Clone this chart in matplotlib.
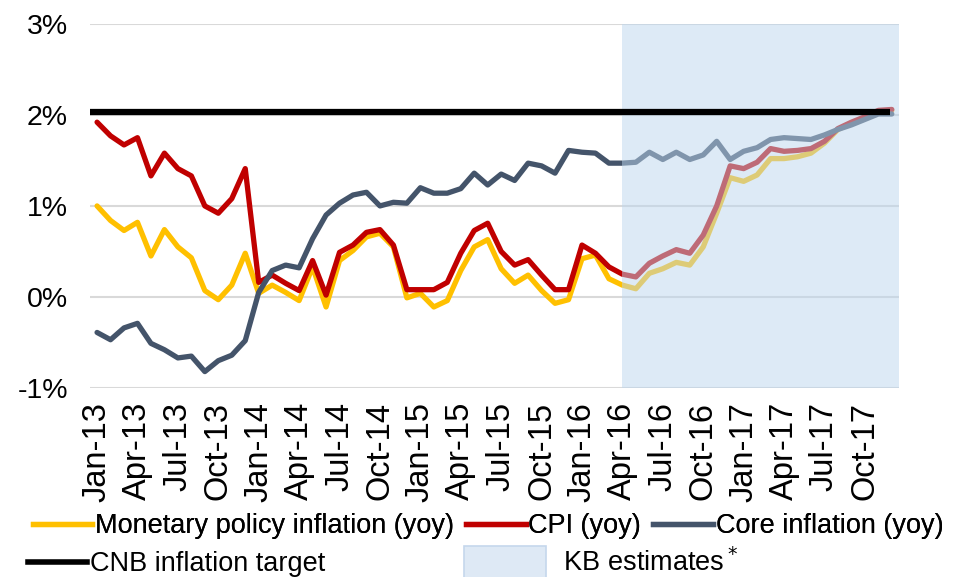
import matplotlib
matplotlib.use('Agg')
import matplotlib.pyplot as plt
import matplotlib.patches as mpatches
from matplotlib.lines import Line2D
from matplotlib.legend_handler import HandlerPatch
import pandas as pd

months = pd.date_range('2013-01-01', '2017-12-01', freq='MS').strftime('%b-%y').tolist()

monetary = [1.00, 0.84, 0.73, 0.82, 0.45, 0.74, 0.55, 0.43, 0.07, -0.03,
            0.13, 0.48, 0.04, 0.13, 0.05, -0.04, 0.33, -0.11, 0.40, 0.51, 0.66,
            0.70, 0.55, -0.01, 0.04, -0.11, -0.04, 0.29, 0.55, 0.63, 0.31,
            0.15, 0.24, 0.07, -0.07, -0.03, 0.42, 0.46, 0.20, 0.13,
            0.09, 0.26, 0.31, 0.38, 0.35, 0.55, 0.92, 1.31, 1.27, 1.34, 1.52,
            1.52, 1.54, 1.58, 1.69, 1.84, 1.91, 1.96, 2.03, 2.05]
cpi = [1.92, 1.77, 1.67, 1.75, 1.33, 1.58, 1.41, 1.33, 1.00, 0.92,
       1.08, 1.41, 0.16, 0.24, 0.15, 0.07, 0.40, 0.02, 0.49, 0.57, 0.71,
       0.74, 0.57, 0.08, 0.08, 0.08, 0.16, 0.48, 0.73, 0.81, 0.50,
       0.35, 0.41, 0.24, 0.08, 0.08, 0.57, 0.48, 0.33, 0.25,
       0.22, 0.37, 0.45, 0.52, 0.48, 0.68, 1.00, 1.44, 1.41, 1.48, 1.63,
       1.60, 1.61, 1.63, 1.71, 1.85, 1.92, 1.98, 2.05, 2.06]
core = [-0.39, -0.47, -0.34, -0.29, -0.51, -0.58, -0.67, -0.65, -0.82, -0.70,
        -0.64, -0.48, 0.05, 0.29, 0.35, 0.32, 0.64, 0.90, 1.03, 1.12, 1.15,
        1.00, 1.04, 1.03, 1.20, 1.14, 1.14, 1.19, 1.36, 1.23, 1.35,
        1.28, 1.47, 1.44, 1.36, 1.61, 1.59, 1.58, 1.47, 1.47,
        1.48, 1.59, 1.51, 1.59, 1.51, 1.56, 1.71, 1.51, 1.60, 1.64, 1.73,
        1.75, 1.74, 1.73, 1.78, 1.84, 1.89, 1.95, 2.01, 2.01]
target = 2.03
estimate_start = 'Apr-16'

plt.rcParams['font.family'] = ['Liberation Sans', 'DejaVu Sans']

fig = plt.figure(figsize=(9.61, 5.77), dpi=100)
ax = fig.add_axes([0.094, 0.3276, 0.841, 0.631])

x = list(range(len(months)))
lw = 3.8
ax.plot(x, monetary, color='#FFC000', lw=lw, zorder=2, solid_joinstyle='round', solid_capstyle='round')
ax.plot(x, cpi, color='#C00000', lw=lw, zorder=2, solid_joinstyle='round', solid_capstyle='round')
ax.plot(x, core, color='#44546A', lw=lw, zorder=2, solid_joinstyle='round', solid_capstyle='round')
ax.axvspan(months.index(estimate_start), len(months) - 0.5, color='#BDD7EE', alpha=0.5, lw=0, zorder=3)
ax.hlines(target, -0.5, len(months) - 1.1, colors='black', lw=4.5, zorder=4)

ax.set_xlim(-0.5, len(months) - 0.5)
ax.set_ylim(-1, 3)
ax.set_yticks([-1, 0, 1, 2, 3])
ax.set_yticklabels(['-1%', '0%', '1%', '2%', '3%'], fontsize=20.5)
ax.set_xticks(x[::3])
ax.set_xticklabels(months[::3], rotation=90, fontsize=23.5)
ax.tick_params(axis='x', length=0, pad=10)
ax.tick_params(axis='y', length=0, pad=16)
ax.grid(axis='y', color='#D9D9D9', lw=1.5, zorder=0.5)
ax.set_axisbelow(True)
for s in ax.spines.values():
    s.set_visible(False)

fs = 19.5
h1 = [Line2D([], [], color='#FFC000', lw=lw),
      Line2D([], [], color='#C00000', lw=lw),
      Line2D([], [], color='#44546A', lw=lw)]
l1 = ['Monetary policy inflation (yoy)', 'CPI (yoy)', 'Core inflation (yoy)']
leg1 = fig.legend(h1, l1, loc='center left', bbox_to_anchor=(0.034, 0.088), ncol=3,
                  frameon=False, fontsize=fs, handlelength=2.2, handletextpad=0.1,
                  columnspacing=0.45, borderpad=0, borderaxespad=0)


def wide_box(legend, orig_handle, xdescent, ydescent, width, height, fontsize):
    return mpatches.Rectangle((-xdescent, -ydescent - 0.35 * height), width * 1.38, height * 1.7)


h2 = [Line2D([], [], color='black', lw=4),
      mpatches.Patch(facecolor='#DEE9F5', edgecolor='#C5D7EC', lw=1.2)]
l2 = ['CNB inflation target', '     KB estimates$^*$']
leg2 = fig.legend(h2, l2, loc='center left', bbox_to_anchor=(0.029, 0.024), ncol=2,
                  frameon=False, fontsize=fs, handlelength=2.2, handletextpad=0.1,
                  columnspacing=5.1, borderpad=0, borderaxespad=0,
                  handler_map={mpatches.Patch: HandlerPatch(patch_func=wide_box)})
fig.add_artist(leg1)

fig.savefig('out.png', dpi=100)
